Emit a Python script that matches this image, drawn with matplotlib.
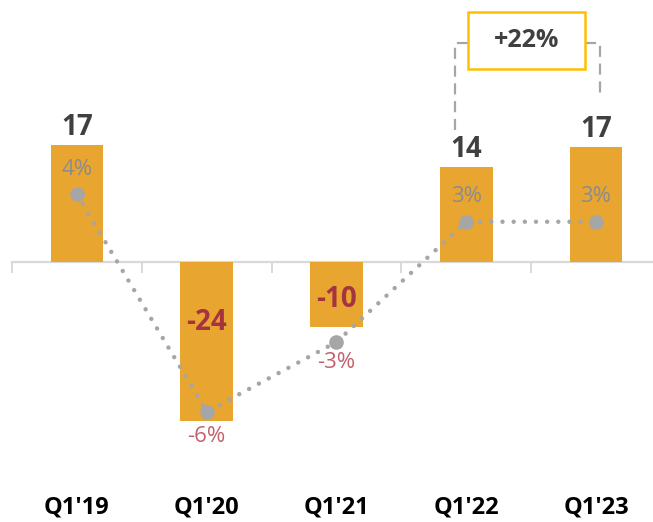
import matplotlib
matplotlib.use('Agg')
from matplotlib import pyplot as plt
from matplotlib.patches import Rectangle

# data
quarters = ["Q1'19", "Q1'20", "Q1'21", "Q1'22", "Q1'23"]
values = [17.4, -23.6, -9.6, 14.1, 17.1]
margins = [4.2, -6.1, -2.8, 2.9, 2.9]
growth_label = '+22%'

BAR = '#E8A530'
GREY = '#A6A6A6'
DARK = '#404040'
RED = '#A4343F'
ROSE = '#C4606C'

plt.rcParams['font.family'] = ['Open Sans', 'DejaVu Sans']

fig = plt.figure(figsize=(6.53, 5.22), dpi=100)
ax = fig.add_axes([0, 0, 1, 1])
ax.set_xlim(-0.593, 4.439)
ax.set_ylim(-38.5, 38.8)
ax.axis('off')

x = list(range(len(quarters)))
ax.bar(x, values, width=0.405, color=BAR, zorder=2)

# baseline and category ticks
ax.plot([-0.5, 4.5], [0, 0], color='#D9D9D9', lw=1.6, zorder=1)
for b in [i - 0.5 for i in range(len(quarters) + 1)]:
    ax.plot([b, b], [0, -1.5], color='#D9D9D9', lw=1.4, zorder=1)

# bar labels
for xi, v in zip(x, values):
    if v >= 0:
        ax.text(xi, v + 2.5, f'{round(v):d}', ha='center', va='center',
                fontsize=20, fontweight='bold', color=DARK, zorder=4)
    else:
        ax.text(xi, max(-9.0, v + 4.0), f'{round(v):d}', ha='center', va='center',
                fontsize=20, fontweight='bold', color=RED, zorder=4)

# category labels
for xi, q in zip(x, quarters):
    ax.text(xi, -36.3, q, ha='center', va='center', fontsize=17,
            fontweight='bold', color='black')

# margin line on secondary scale
ax2 = ax.twinx()
ax2.set_ylim(-11.33, 13.41)
ax2.axis('off')
ax2.plot(x, margins, color=GREY, lw=3.2, linestyle=(0, (0.01, 2.5)),
         dash_capstyle='round', zorder=3)
ax2.plot(x, margins, 'o', color=GREY, ms=9.5, zorder=3)
for xi, m in zip(x, margins):
    if m >= 0:
        ax2.annotate(f'{round(m):d}%', (xi, m), xytext=(0, 18),
                     textcoords='offset points', ha='center', va='center',
                     fontsize=16, color='#8C8C8C', zorder=4)
    else:
        off = -18 if m < -4 else -15
        ax2.annotate(f'{round(m):d}%', (xi, m), xytext=(0, off),
                     textcoords='offset points', ha='center', va='center',
                     fontsize=16, color=ROSE, zorder=4)

# growth bracket Q1'22 -> Q1'23
top = 32.4
ax.plot([3 - 0.087, 3 - 0.087, 3.013], [values[3] + 5.5, top, top],
        color=GREY, lw=1.6, linestyle=(0, (5, 3)))
ax.plot([3.915, 4.03, 4.03], [top, top, values[4] + 7.5],
        color=GREY, lw=1.6, linestyle=(0, (5, 3)))
ax.add_patch(Rectangle((3.013, 28.6), 0.902, 8.4, fill=False,
                       edgecolor='#FFC000', lw=1.8, zorder=3))
ax.text(3.464, 32.8, growth_label, ha='center', va='center', fontsize=18,
        fontweight='bold', color=DARK)

fig.savefig('out.png', dpi=100)
